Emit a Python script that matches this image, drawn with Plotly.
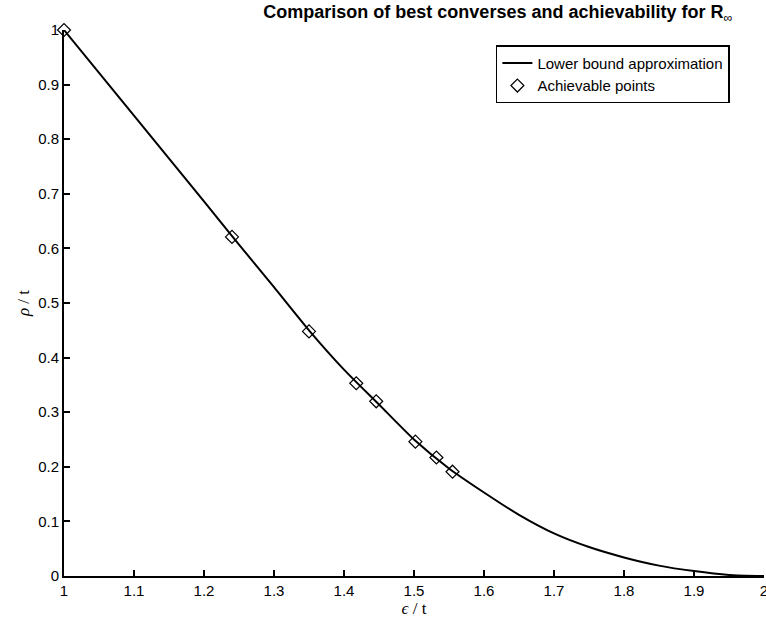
from plotly import graph_objects as go

# lower bound curve
boundEps = [1.0, 1.1, 1.2, 1.25, 1.3, 1.35, 1.4, 1.45, 1.5, 1.55, 1.6, 1.65, 1.7, 1.75, 1.8, 1.85, 1.9, 1.95, 2.0]
boundRho = [1.0, 0.843, 0.686, 0.607, 0.529, 0.450, 0.378, 0.314, 0.250, 0.197, 0.153, 0.112, 0.078, 0.053, 0.034, 0.019, 0.009, 0.002, 0.0]

# achievable points
achEps = [1.0, 1.24, 1.35, 1.4175, 1.446, 1.502, 1.532, 1.555]
achRho = [1.0, 0.621, 0.448, 0.353, 0.320, 0.246, 0.217, 0.191]

xTicks = [1.0, 1.1, 1.2, 1.3, 1.4, 1.5, 1.6, 1.7, 1.8, 1.9, 2.0]
xLabels = ['1', '1.1', '1.2', '1.3', '1.4', '1.5', '1.6', '1.7', '1.8', '1.9', '2']
yTicks = [0, 0.1, 0.2, 0.3, 0.4, 0.5, 0.6, 0.7, 0.8, 0.9, 1.0]
yLabels = ['0', '0.1', '0.2', '0.3', '0.4', '0.5', '0.6', '0.7', '0.8', '0.9', '1']

fig = go.Figure()
fig.add_trace(go.Scatter(x=boundEps, y=boundRho, mode='lines',
                         line=dict(color='black', width=2, shape='spline', smoothing=0.6),
                         name='Lower bound approximation'))
fig.add_trace(go.Scatter(x=achEps, y=achRho, mode='markers',
                         marker=dict(symbol='diamond-open', size=10, color='black',
                                     line=dict(width=1.2, color='black')),
                         cliponaxis=False, name='Achievable points'))

axisStyle = dict(showgrid=False, zeroline=False, showline=True, linecolor='black',
                 linewidth=2, ticks='inside', ticklen=6, tickcolor='black', tickwidth=1.5,
                 tickfont=dict(family='Liberation Sans, Arial', size=15, color='black'),
                 mirror=False, automargin=False, ticklabeloverflow='allow')

fig.update_layout(
    width=766, height=621,
    paper_bgcolor='white', plot_bgcolor='white',
    margin=dict(l=64, r=2, t=30, b=45),
    title=dict(text='<b>Comparison of best converses and achievability for R</b><sub>∞</sub>',
               x=0.65, xanchor='center', y=0.981, yanchor='middle',
               font=dict(family='Liberation Sans, Arial', size=18, color='black')),
    xaxis=dict(range=[1, 2], tickvals=xTicks, ticktext=xLabels,
               title=dict(text='<i>ϵ</i> / t', standoff=0,
                          font=dict(family='Liberation Serif, Times New Roman', size=17, color='black')),
               **axisStyle),
    yaxis=dict(range=[0, 1], tickvals=yTicks, ticktext=yLabels,
               title=dict(text='<i>ρ</i> / t', standoff=4,
                          font=dict(family='Liberation Serif, Times New Roman', size=17, color='black')),
               **axisStyle),
    legend=dict(x=0.617, y=0.972, xanchor='left', yanchor='top',
                bgcolor='white', bordercolor='black', borderwidth=1.5,
                font=dict(family='Liberation Sans, Arial', size=15, color='black'),
                tracegroupgap=0, itemwidth=30),
    showlegend=True,
)

# drop the default page margin so the figure sits at the window's corner
fig.write_html("out.html", config={'displayModeBar': False},
               post_script="document.body.style.margin='0px';")
